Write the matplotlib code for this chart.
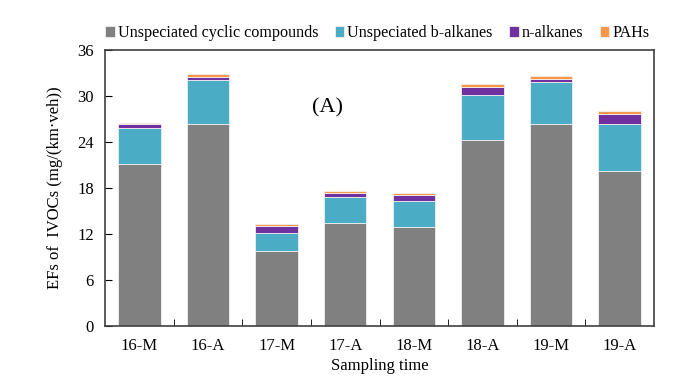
import numpy as np
from matplotlib import pyplot as plt

plt.rcParams['font.family'] = 'Liberation Serif'

samples = ['16-M', '16-A', '17-M', '17-A', '18-M', '18-A', '19-M', '19-A']
cyclic = np.array([21.07, 26.28, 9.72, 13.33, 12.85, 24.2, 26.3, 20.2])
b_alkanes = np.array([4.73, 5.74, 2.3, 3.43, 3.41, 5.9, 5.5, 6.08])
n_alkanes = np.array([0.44, 0.39, 1.0, 0.57, 0.8, 1.05, 0.31, 1.35])
pahs = np.array([0.13, 0.39, 0.18, 0.17, 0.18, 0.35, 0.44, 0.37])

series = [cyclic, b_alkanes, n_alkanes, pahs]
labels = ['Unspeciated cyclic compounds', 'Unspeciated b-alkanes', 'n-alkanes', 'PAHs']
colors = ['#808080', '#4BACC6', '#7030A0', '#F79646']

fig = plt.figure(figsize=(6.86, 3.88), dpi=100)
ax = fig.add_axes([105/686, 1-325.5/388, 549/686, 276/388])

x = np.arange(len(samples))
bottom = np.zeros(len(samples))
for vals, lab, col in zip(series, labels, colors):
    ax.bar(x, vals, 0.62, bottom=bottom, color=col, label=lab,
           edgecolor='#f0f0f0', linewidth=0.6)
    bottom = bottom + vals

ax.set_xlim(-0.5, len(samples)-0.5)
ax.set_ylim(0, 36)
ax.set_yticks(np.arange(0, 37, 6))
ax.set_xticks(x)
ax.set_xticklabels(samples)
ax.set_xticks(np.arange(0.5, len(samples)-1, 1), minor=True)
ax.tick_params(axis='x', which='major', length=0, labelsize=12, pad=9)
ax.tick_params(axis='x', which='minor', direction='in', length=5)
ax.tick_params(axis='y', direction='in', length=5, labelsize=12, pad=8)
for s in ax.spines.values():
    s.set_color('#404040')
    s.set_linewidth(1.2)

ax.set_xlabel('Sampling time', fontsize=12, labelpad=3)
ax.set_ylabel('EFs of  IVOCs (mg/(km\u00b7veh))', fontsize=12, labelpad=10)
ax.text(2.74, 28.4, '(A)', fontsize=16, ha='center', va='center')

ax.legend(loc='lower left', bbox_to_anchor=(0.0, 1.03), ncol=4, frameon=False,
          fontsize=11.6, handlelength=0.6, handleheight=0.6, handletextpad=0.2,
          columnspacing=1.0, borderaxespad=0, borderpad=0)

fig.savefig('out.png', dpi=100)
